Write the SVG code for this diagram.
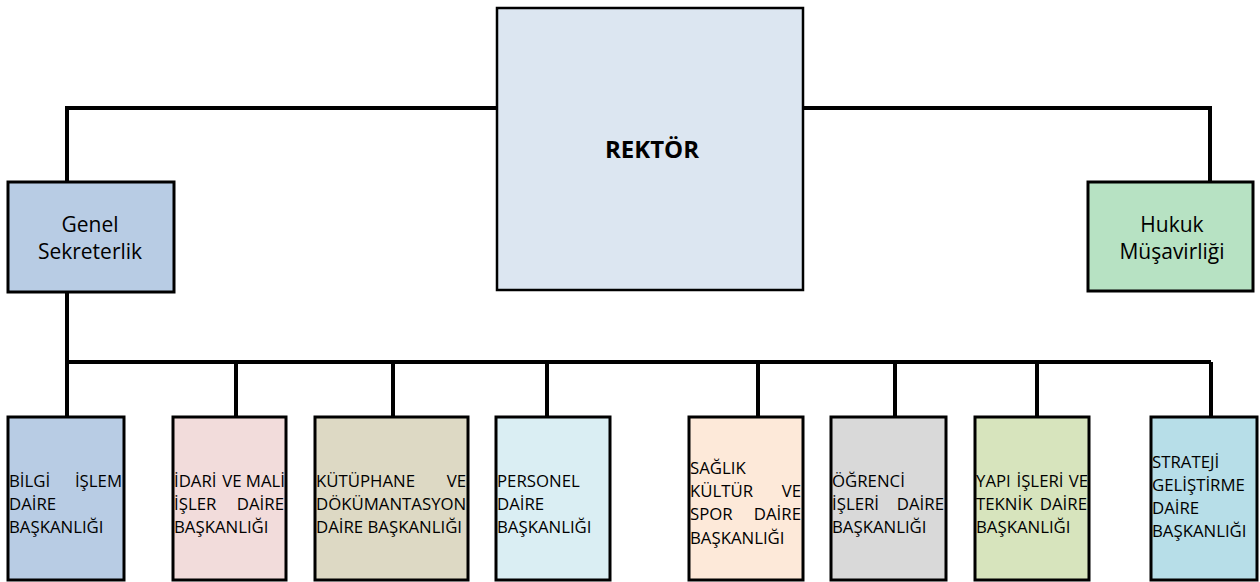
<svg xmlns="http://www.w3.org/2000/svg" width="1260" height="582" viewBox="0 0 1260 582">
<style>
.box{stroke:#000;stroke-width:3}
.big{stroke:#000;stroke-width:2.5}
.t{font-family:"Open Sans","Noto Sans",sans-serif;font-size:16.8px;fill:#000}
.m{font-family:"Open Sans","Noto Sans",sans-serif;font-size:21px;fill:#000;text-anchor:middle}
.r{text-anchor:end}
.c{text-anchor:middle}
.conn{fill:none;stroke:#000;stroke-width:4}
</style>
<rect width="1260" height="582" fill="#fff"/>
<g id="connectors">
<path class="conn" d="M67,182 V108 H497"/>
<path class="conn" d="M803,108 H1210 V182"/>
<path class="conn" d="M67,292 V417"/>
<path class="conn" d="M67,362 H1211"/>
<path class="conn" d="M236,362 V417"/>
<path class="conn" d="M393,362 V417"/>
<path class="conn" d="M547,362 V417"/>
<path class="conn" d="M758,362 V417"/>
<path class="conn" d="M895,362 V417"/>
<path class="conn" d="M1037,362 V417"/>
<path class="conn" d="M1211,362 V417"/>
</g>
<g id="rektor">
<rect class="big" x="497" y="8" width="306" height="282" fill="#dce6f1"/>
<text x="652" y="158" font-family="Open Sans, Noto Sans, sans-serif" font-size="24" font-weight="bold" text-anchor="middle">REKTÖR</text>
</g>
<g id="genel-sekreterlik">
<rect class="box" x="8" y="182" width="166" height="110" fill="#b8cce4"/>
<text class="m" x="90" y="232">Genel</text>
<text class="m" x="90" y="259">Sekreterlik</text>
</g>
<g id="hukuk">
<rect class="box" x="1088" y="182" width="165" height="109" fill="#b7e2c3"/>
<text class="m" x="1172" y="232">Hukuk</text>
<text class="m" x="1172" y="259">Müşavirliği</text>
</g>
<g id="bilgi-islem">
<rect class="box" x="8" y="417" width="116" height="163" fill="#b8cce4"/>
<text class="t" x="9" y="487">BİLGİ</text>
<text class="t r" x="122" y="487">İŞLEM</text>
<text class="t" x="9" y="510">DAİRE</text>
<text class="t" x="9" y="533">BAŞKANLIĞI</text>
</g>
<g id="idari-mali">
<rect class="box" x="173" y="417" width="113" height="163" fill="#f2dcdb"/>
<text class="t" x="174" y="487">İDARİ</text>
<text class="t c" x="232" y="487">VE</text>
<text class="t r" x="285" y="487">MALİ</text>
<text class="t" x="174" y="510">İŞLER</text>
<text class="t r" x="284" y="510">DAİRE</text>
<text class="t" x="174" y="533">BAŞKANLIĞI</text>
</g>
<g id="kutuphane">
<rect class="box" x="315" y="417" width="153" height="163" fill="#ddd9c4"/>
<text class="t" x="316" y="487">KÜTÜPHANE</text>
<text class="t r" x="466" y="487">VE</text>
<text class="t" x="316" y="510">DÖKÜMANTASYON</text>
<text class="t" x="316" y="533">DAİRE BAŞKANLIĞI</text>
</g>
<g id="personel">
<rect class="box" x="496" y="417" width="114" height="163" fill="#daeef3"/>
<text class="t" x="497" y="487">PERSONEL</text>
<text class="t" x="497" y="510">DAİRE</text>
<text class="t" x="497" y="533">BAŞKANLIĞI</text>
</g>
<g id="saglik-kultur">
<rect class="box" x="689" y="417" width="114" height="163" fill="#fde9d9"/>
<text class="t" x="690" y="474">SAĞLIK</text>
<text class="t" x="690" y="497">KÜLTÜR</text>
<text class="t r" x="801" y="497">VE</text>
<text class="t" x="690" y="520">SPOR</text>
<text class="t r" x="801" y="520">DAİRE</text>
<text class="t" x="690" y="544">BAŞKANLIĞI</text>
</g>
<g id="ogrenci-isleri">
<rect class="box" x="831" y="417" width="115" height="163" fill="#d9d9d9"/>
<text class="t" x="832" y="487">ÖĞRENCİ</text>
<text class="t" x="832" y="510">İŞLERİ</text>
<text class="t r" x="944" y="510">DAİRE</text>
<text class="t" x="832" y="533">BAŞKANLIĞI</text>
</g>
<g id="yapi-isleri">
<rect class="box" x="975" y="417" width="114" height="163" fill="#d7e4bd"/>
<text class="t" x="976" y="487">YAPI</text>
<text class="t c" x="1040" y="487">İŞLERİ</text>
<text class="t r" x="1088" y="487">VE</text>
<text class="t" x="976" y="510">TEKNİK</text>
<text class="t r" x="1087" y="510">DAİRE</text>
<text class="t" x="976" y="533">BAŞKANLIĞI</text>
</g>
<g id="strateji">
<rect class="box" x="1151" y="417" width="106" height="163" fill="#b7dee8"/>
<text class="t" x="1152" y="468">STRATEJİ</text>
<text class="t" x="1152" y="491">GELİŞTİRME</text>
<text class="t" x="1152" y="514">DAİRE</text>
<text class="t" x="1152" y="537">BAŞKANLIĞI</text>
</g>
</svg>
